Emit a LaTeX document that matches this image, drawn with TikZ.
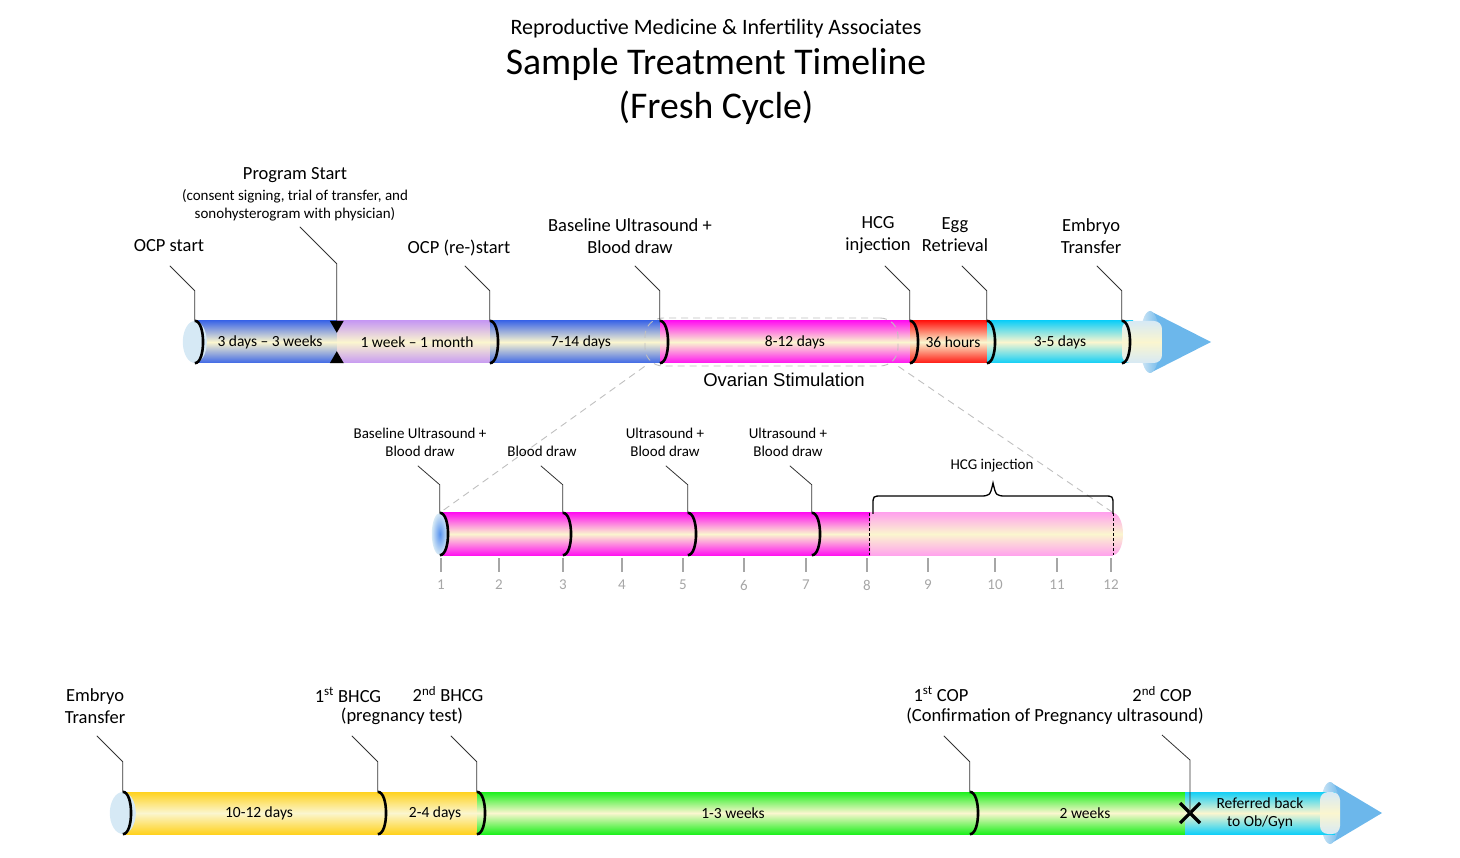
\documentclass[tikz,border=0pt]{standalone}
\usepackage{fontspec}
\setmainfont{Carlito}
\newfontfamily\arialfont{Liberation Sans}
\usepackage{tikz}
\usetikzlibrary{positioning}
\definecolor{cream}{HTML}{FBF6CF}
\definecolor{ocpblue}{HTML}{3F68E6}
\definecolor{lilac}{HTML}{C79AF2}
\definecolor{stimpink}{HTML}{FF14F0}
\definecolor{paleink}{HTML}{FFA3EC}
\definecolor{hcgred}{HTML}{FF1A14}
\definecolor{cyanbar}{HTML}{12CFF7}
\definecolor{yellowbar}{HTML}{FFD21F}
\definecolor{greenbar}{HTML}{1EF01E}
\definecolor{capblue}{HTML}{D6E9F5}
\definecolor{tipblue}{HTML}{6CB7EB}
\definecolor{tickgray}{HTML}{A6A6A6}
\definecolor{zoomgray}{HTML}{BFBFBF}

\begin{document}
\begin{tikzpicture}[
  x=1pt, y=-1pt,
  font=\fontsize{15.5}{18}\selectfont,
  seg/.style={minimum height=42pt, inner sep=0pt, align=center, top color=#1, bottom color=#1, middle color=cream},
  lbl/.style={font=\fontsize{18.5}{22}\selectfont, align=center},
  small/.style={font=\fontsize{15}{18}\selectfont, align=center},
  num/.style={text=tickgray, font=\fontsize{15}{18}\selectfont},
  leader/.style={draw=black!80, line width=0.8pt},
  joint/.style={line width=2.6pt},
  zoomline/.style={draw=zoomgray, dash pattern=on 7pt off 5pt, line width=0.9pt},
  tick/.style={draw=tickgray, line width=1.2pt},
]
\useasboundingbox (0,0) rectangle (1460,858);

\node[font=\fontsize{22}{26}\selectfont] (org) at (716,29) {Reproductive Medicine \& Infertility Associates};
\node[font=\fontsize{37.7}{44}\selectfont] (title) at (716,64) {Sample Treatment Timeline};
\node[font=\fontsize{37.7}{44}\selectfont] (cycle) at (716,108) {(Fresh Cycle)};

% top bar
\fill[tipblue] (1150,311) -- (1211,342) -- (1150,373) -- cycle;
\shade[left color=capblue, right color=tipblue] (1150,342) ellipse [x radius=10, y radius=31];
\node[seg=ocpblue, minimum width=150pt] (s1) at (270,342) {3 days -- 3 weeks};
\node[seg=lilac, minimum width=160pt] (s2) at (417,342) {1 week -- 1 month};
\node[seg=ocpblue, minimum width=182pt] (s3) at (581,342) {7-14 days};
\node[seg=stimpink, minimum width=270pt] (s4) at (795,342) {8-12 days};
\node[seg=hcgred, minimum width=86pt] (s5) at (953,342) {36 hours};
\node[seg=cyanbar, minimum width=146pt] (s6) at (1060,342) {3-5 days};
\node[seg=capblue, minimum width=40pt, rounded corners=8pt] (topcap) at (1142,342) {};
\fill[capblue] (s1.west) ellipse [x radius=12, y radius=21];

\node[draw=zoomgray, dash pattern=on 7pt off 5pt, line width=0.9pt, rounded corners=18pt,
  minimum width=253pt, minimum height=48pt] (stim) at (771.5,342) {};
\node[font=\arialfont\fontsize{18.5}{22}\selectfont] (stimlbl) at (784,380) {Ovarian Stimulation};

\foreach \s in {s1,s3,s4,s5,s6,topcap}
  \draw[joint] (\s.north west) .. controls +(11,0) and +(11,0) .. (\s.south west);
\fill (s2.north west) ++(-7,0) -- ++(14,0) -- ++(-7,12) -- cycle;
\fill (s2.south west) ++(-7,0) -- ++(14,0) -- ++(-7,-12) -- cycle;

\node[lbl] (ocp) at (169,246) {OCP start};
\node[lbl] (prog) at (295,175) {Program Start};
\node[small] (prognote) at (295,205) {(consent signing, trial of transfer, and\\sonohysterogram with physician)};
\node[lbl] (reocp) at (459,248) {OCP (re-)start};
\node[lbl] (base) at (630,236) {Baseline Ultrasound +\\Blood draw};
\node[lbl] (hcg) at (878,235) {HCG\\injection};
\node[lbl] (egg) at (955,235) {Egg\\Retrieval};
\node[lbl] (et) at (1091,236) {Embryo\\Transfer};

\foreach \s in {s1,s3,s4,s5,s6,topcap}
  \draw[leader] (\s.north west) -- ++(0,-30) -- ++(-25,-25);
\draw[leader] (s2.north west) -- ++(0,-57) -- ++(-37,-37);

% middle bar
\shade[top color=paleink, bottom color=paleink, middle color=cream] (1113,534) ellipse [x radius=10, y radius=21];
\node[seg=paleink, minimum width=243pt] (m5) at (991.5,534) {};
\node[seg=stimpink, minimum width=123pt] (m1) at (501.5,534) {};
\node[seg=stimpink, minimum width=125pt] (m2) at (625.5,534) {};
\node[seg=stimpink, minimum width=124pt] (m3) at (750,534) {};
\node[seg=stimpink, minimum width=58pt] (m4) at (841,534) {};
\shade[inner color=tipblue!80!blue, outer color=capblue] (m1.west) ellipse [x radius=8, y radius=21];
\foreach \s in {m1,m2,m3,m4}
  \draw[joint] (\s.north west) .. controls +(11,0) and +(11,0) .. (\s.south west);
\draw[densely dashed, line width=1pt] (m5.north west) -- (m5.south west);
\draw[densely dashed, line width=1pt] (m5.north east) -- (m5.south east);

\draw[zoomline] (stim.south west) -- (m1.north west);
\draw[zoomline] (stim.south east) -- (m5.north east);

\foreach \n/\x in {1/441,2/499,3/563,4/622,5/683,6/744,7/806,8/867,9/928,10/995,11/1057,12/1111} {
  \draw[tick] (\x,558) -- (\x,572);
  \node[num] (t\n) at (\x,585) {\n};
}

\node[small] (mbase) at (420,442) {Baseline Ultrasound +\\Blood draw};
\node[small] (mblood) at (542,451) {Blood draw};
\node[small] (mus1) at (665,442) {Ultrasound +\\Blood draw};
\node[small] (mus2) at (788,442) {Ultrasound +\\Blood draw};
\node[small] (mhcg) at (992,466) {HCG injection};
\foreach \s in {m1,m2,m3,m4}
  \draw[leader] (\s.north west) -- ++(0,-28) -- ++(-22,-19);

\draw[line width=1.3pt] (873,514) -- (873,505) .. controls (873,496) .. (882,496) -- (979,496)
  .. controls (990,496) .. (993,483) .. controls (996,496) .. (1007,496) -- (1104,496)
  .. controls (1113,496) .. (1113,505) -- (1113,514);

% bottom bar
\fill[tipblue] (1330,782) -- (1382,813) -- (1330,844) -- cycle;
\shade[left color=capblue, right color=tipblue] (1330,813) ellipse [x radius=10, y radius=31];
\node[seg=yellowbar, minimum width=272pt] (b1) at (259,813) {10-12 days};
\node[seg=yellowbar, minimum width=114pt] (b2) at (435,813) {2-4 days};
\node[seg=greenbar, minimum width=512pt] (b3) at (733,813) {1-3 weeks};
\node[seg=greenbar, minimum width=230pt] (b4) at (1085,813) {2 weeks};
\node[seg=cyanbar, minimum width=150pt] (b5) at (1260,813) {Referred back\\to Ob/Gyn};
\node[seg=capblue, minimum width=20pt, rounded corners=8pt] (botcap) at (1330,813) {};
\fill[capblue] (b1.west) ellipse [x radius=13, y radius=21];
\foreach \s in {b1,b2,b3,b4}
  \draw[joint] (\s.north west) .. controls +(11,0) and +(11,0) .. (\s.south west);
\coordinate (cut) at (1190,813);
\draw[line width=3.2pt] (cut) ++(-10,-10) -- ++(20,20) (cut) ++(-10,10) -- ++(20,-20);

\node[lbl] (et2) at (95,706) {Embryo\\Transfer};
\node[lbl] (bh1) at (348,695) {1\textsuperscript{st} BHCG};
\node[lbl] (bh2) at (448,694) {2\textsuperscript{nd} BHCG};
\node[lbl] (preg) at (402,716) {(pregnancy test)};
\node[lbl] (cop1) at (941,694) {1\textsuperscript{st} COP};
\node[lbl] (cop2) at (1162,694) {2\textsuperscript{nd} COP};
\node[lbl] (confirm) at (1055,716) {(Confirmation of Pregnancy ultrasound)};

\foreach \s in {b1,b2,b3,b4}
  \draw[leader] (\s.north west) -- ++(0,-30) -- ++(-26,-26);
\draw[leader] (cut) -- ++(0,-53) -- ++(-28,-25);
\end{tikzpicture}
\end{document}
